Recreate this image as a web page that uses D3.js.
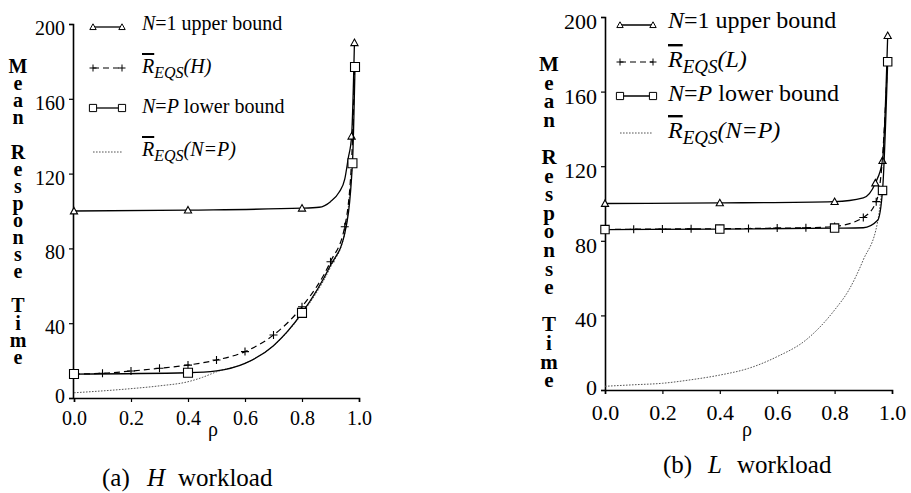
<!DOCTYPE html>
<html><head><meta charset="utf-8">
<script src="https://cdn.jsdelivr.net/npm/d3@7"></script>
<style>
html,body{margin:0;background:#fff}
svg text, svg tspan { font-family: "Liberation Serif", "Tinos", "Times New Roman", serif !important; }
</style></head><body>
<svg id="c" width="911" height="493"></svg>
<script>
// ---------- shared ----------
const xTicks = [0, 0.2, 0.4, 0.6, 0.8, 1.0];
const yTicks = [0, 40, 80, 120, 160, 200];
const axisTitle = "Mean Response Time";
const xLabel = "ρ";
const serifFamily = "Liberation Serif";

// ---------- (a) H workload ----------
const hUpperRho = [0, 0.4, 0.8, 0.86, 0.9, 0.93, 0.95, 0.962, 0.974, 0.984];
const hUpperVal = [100, 100.5, 101.5, 102, 105, 110, 117, 128, 140, 190];
const hUpperMarkRho = [0, 0.4, 0.8, 0.974, 0.984];
const hUpperMarkVal = [100, 100.5, 101.5, 140, 190];

const hEqsRho = [0, 0.1, 0.2, 0.3, 0.4, 0.5, 0.6, 0.7, 0.8, 0.9, 0.95, 0.975, 0.984];
const hEqsVal = [12.8, 13.2, 14.4, 15.9, 17.6, 20.3, 24.8, 33.7, 48.8, 72.9, 91.6, 130, 175];
const hEqsMarkRho = [0.1, 0.2, 0.3, 0.4, 0.5, 0.6, 0.7, 0.8, 0.9, 0.95];
const hEqsMarkVal = [13.2, 14.4, 15.9, 17.6, 20.3, 24.8, 33.7, 48.8, 72.9, 91.6];

const hLowerRho = [0, 0.4, 0.5, 0.6, 0.7, 0.8, 0.9, 0.95, 0.977, 0.986];
const hLowerVal = [12.8, 13.5, 14.5, 18.5, 28, 45.5, 71, 88, 125.5, 177];
const hLowerMarkRho = [0, 0.4, 0.8, 0.977, 0.986];
const hLowerMarkVal = [12.8, 13.5, 45.5, 125.5, 177];

const hNpRho = [0, 0.1, 0.2, 0.3, 0.4, 0.45, 0.5, 0.6, 0.7, 0.8, 0.9, 0.95, 0.975];
const hNpVal = [2.8, 3.8, 5, 6.5, 8.7, 11, 14, 18.5, 28, 45, 70, 88, 122];

// ---------- (b) L workload ----------
const lUpperRho = [0, 0.4, 0.8, 0.9, 0.942, 0.967, 0.985];
const lUpperVal = [100, 100.3, 101, 103, 111, 123, 190];
const lUpperMarkRho = [0, 0.4, 0.8, 0.942, 0.967, 0.985];
const lUpperMarkVal = [100, 100.3, 101, 111, 123, 190];

const lEqsRho = [0, 0.1, 0.2, 0.3, 0.4, 0.5, 0.6, 0.7, 0.8, 0.9, 0.945, 0.967, 0.985];
const lEqsVal = [86, 86.2, 86.3, 86.4, 86.5, 86.6, 86.8, 87, 87.7, 92.5, 101, 125, 178];
const lEqsMarkRho = [0.1, 0.2, 0.3, 0.4, 0.5, 0.6, 0.7, 0.8, 0.9, 0.945];
const lEqsMarkVal = [86.2, 86.3, 86.4, 86.5, 86.6, 86.8, 87, 87.7, 92.5, 101];

const lLowerRho = [0, 0.4, 0.8, 0.9, 0.95, 0.967, 0.985];
const lLowerVal = [86, 86.3, 86.8, 87, 91, 107, 176];
const lLowerMarkRho = [0, 0.4, 0.8, 0.967, 0.985];
const lLowerMarkVal = [86, 86.3, 86.8, 107, 176];

const lNpRho = [0, 0.1, 0.2, 0.3, 0.4, 0.5, 0.6, 0.7, 0.8, 0.85, 0.9, 0.95, 0.967];
const lNpVal = [2, 2.8, 3.6, 5.5, 8, 11.6, 17.9, 26.8, 42.9, 53.7, 69.8, 90.3, 110];

// legend labels
const legendUpper = [{t: "N", it: true}, {t: "=1 upper bound"}];
const legendLower = [{t: "N", it: true}, {t: "="}, {t: "P", it: true}, {t: " lower bound"}];
const legendEqsH = [{t: "R", it: true, over: true}, {t: "EQS", it: true, sub: true}, {t: "(H)", it: true}];
const legendEqsL = [{t: "R", it: true, over: true}, {t: "EQS", it: true, sub: true}, {t: "(L)", it: true}];
const legendEqsNP = [{t: "R", it: true, over: true}, {t: "EQS", it: true, sub: true}, {t: "(N=P)", it: true}];

const captionA = ["(a)", "H", "workload"];
const captionB = ["(b)", "L", "workload"];

// ---------- drawing ----------
const svg = d3.select("#c");

const markerPath = {
  tri: s => `M0,${-s}L${s},${s * 0.8}L${-s},${s * 0.8}Z`,
  sq: s => `M${-s},${-s}H${s}V${s}H${-s}Z`,
  plus: s => `M${-s},0H${s}M0,${-s}V${s}`
};

const styles = {
  upper: {dash: null, width: 1.3, color: "#000"},
  eqs: {dash: "6,4", width: 1.2, color: "#000"},
  lower: {dash: null, width: 1.3, color: "#000"},
  np: {dash: "1.6,1.4", width: 1, color: "#555"}
};

function serif(sel) {
  return sel.attr("font-family", serifFamily).style("font-family", serifFamily, "important");
}

function drawPanel(c) {
  const g = svg.append("g");
  const x = d3.scaleLinear().domain([0, 1]).range([c.x0, c.x1]);
  const y = d3.scaleLinear().domain([0, 200]).range([c.yBot, c.yTop]);

  // axes
  const ax = g.append("g").attr("transform", `translate(0,${c.yBot})`)
    .call(d3.axisBottom(x).tickValues(xTicks).tickFormat(d3.format(".1f"))
      .tickSize(4).tickSizeOuter(4).tickPadding(c.xPad));
  const ay = g.append("g").attr("transform", `translate(${c.axisX},0)`)
    .call(d3.axisLeft(y).tickValues(yTicks).tickFormat(d3.format("d"))
      .tickSize(4).tickSizeOuter(4).tickPadding(4));
  [ax, ay].forEach(a => {
    a.attr("font-size", c.tickFont);
    serif(a);
    a.selectAll("path.domain").attr("stroke", "#000").attr("stroke-width", 1.6);
    a.selectAll(".tick line").attr("stroke", "#000").attr("stroke-width", 1.2);
    serif(a.selectAll("text").attr("fill", "#000").attr("font-size", c.tickFont));
  });
  ay.selectAll("text").attr("dy", d => d === 0 ? c.zeroDy : "0.52em");

  // series
  const line = d3.line().x(d => x(d[0])).y(d => y(d[1])).curve(d3.curveMonotoneX);
  c.series.forEach(s => {
    const st = styles[s.type];
    const pts = s.rho.map((r, i) => [r, s.val[i]]);
    g.append("path").attr("d", line(pts)).attr("fill", "none")
      .attr("stroke", st.color).attr("stroke-width", st.width)
      .attr("stroke-dasharray", st.dash);
    if (s.mRho) {
      const mk = s.mRho.map((r, i) => [r, s.mVal[i]]);
      g.selectAll(null).data(mk).enter().append("path")
        .attr("transform", d => `translate(${x(d[0])},${y(d[1])})`)
        .attr("d", markerPath[s.marker](c.mSize[s.marker]))
        .attr("fill", s.marker === "plus" ? "none" : "#fff")
        .attr("stroke", "#000").attr("stroke-width", 1.1);
    }
  });

  // legend
  c.legend.forEach((L, i) => {
    const st = styles[L.type];
    const ly = c.leg.rows[i];
    g.append("line").attr("x1", c.leg.mx0).attr("x2", c.leg.mx1)
      .attr("y1", ly).attr("y2", ly).attr("stroke", st.color)
      .attr("stroke-width", st.width).attr("stroke-dasharray", st.dash);
    if (L.marker) {
      [c.leg.mx0, c.leg.mx1].forEach(mx => {
        g.append("path").attr("transform", `translate(${mx},${ly})`)
          .attr("d", markerPath[L.marker](c.leg.mSize[L.marker]))
          .attr("fill", L.marker === "plus" ? "none" : "#fff")
          .attr("stroke", "#000").attr("stroke-width", 1);
      });
    }
    const t = serif(g.append("text").attr("x", c.leg.tx).attr("y", c.leg.base[i])
      .attr("font-size", c.leg.font));
    let shifted = 0;
    L.parts.forEach(p => {
      const ts = t.append("tspan").text(p.t);
      if (p.it) ts.attr("font-style", "italic");
      if (p.over) ts.style("text-decoration", "overline");
      if (p.sub) {
        ts.attr("font-size", c.leg.sub).attr("dy", c.leg.subShift);
        shifted = c.leg.subShift;
      } else if (shifted) {
        ts.attr("dy", -shifted);
        shifted = 0;
      }
    });
  });

  // vertical stacked axis title (one text, upright letters)
  serif(g.append("text").attr("x", c.title.x).attr("y", c.title.y)
    .attr("font-size", c.title.font).attr("font-weight", "bold")
    .style("writing-mode", "vertical-rl").style("text-orientation", "upright")
    .style("letter-spacing", c.title.ls + "px").text(axisTitle));

  // x label
  serif(g.append("text").attr("x", c.rho.x).attr("y", c.rho.y).attr("text-anchor", "middle")
    .attr("font-size", c.rho.font).text(xLabel));

  // caption
  const cap = serif(g.append("text").attr("y", c.cap.y).attr("font-size", c.cap.font));
  c.cap.parts.forEach((p, i) => {
    const ts = cap.append("tspan").attr("x", c.cap.xs[i]).text(p);
    if (i === 1) ts.attr("font-style", "italic");
  });
}

drawPanel({
  x0: 74, x1: 359, yTop: 24, yBot: 398, axisX: 73, xPad: 9, tickFont: 20, zeroDy: "0.22em",
  mSize: {tri: 3.6, sq: 4.5, plus: 4},
  series: [
    {type: "np", rho: hNpRho, val: hNpVal},
    {type: "upper", rho: hUpperRho, val: hUpperVal, mRho: hUpperMarkRho, mVal: hUpperMarkVal, marker: "tri"},
    {type: "eqs", rho: hEqsRho, val: hEqsVal, mRho: hEqsMarkRho, mVal: hEqsMarkVal, marker: "plus"},
    {type: "lower", rho: hLowerRho, val: hLowerVal, mRho: hLowerMarkRho, mVal: hLowerMarkVal, marker: "sq"}
  ],
  legend: [
    {type: "upper", marker: "tri", parts: legendUpper},
    {type: "eqs", marker: "plus", parts: legendEqsH},
    {type: "lower", marker: "sq", parts: legendLower},
    {type: "np", marker: null, parts: legendEqsNP}
  ],
  leg: {mx0: 93, mx1: 122, tx: 142, rows: [27, 68, 108, 152], base: [30, 73, 113, 156],
        font: 20, sub: 16, subShift: 5, mSize: {tri: 3.2, sq: 3.6, plus: 3.5}},
  title: {x: 18, y: 55, font: 20, ls: -4.9},
  rho: {x: 213, y: 436, font: 20},
  cap: {y: 486, font: 25, parts: captionA, xs: [102, 147, 178]}
});

drawPanel({
  x0: 605, x1: 892, yTop: 17, yBot: 390, axisX: 605, xPad: 10, tickFont: 22, zeroDy: "0.2em",
  mSize: {tri: 3.6, sq: 4.2, plus: 4},
  series: [
    {type: "np", rho: lNpRho, val: lNpVal},
    {type: "upper", rho: lUpperRho, val: lUpperVal, mRho: lUpperMarkRho, mVal: lUpperMarkVal, marker: "tri"},
    {type: "eqs", rho: lEqsRho, val: lEqsVal, mRho: lEqsMarkRho, mVal: lEqsMarkVal, marker: "plus"},
    {type: "lower", rho: lLowerRho, val: lLowerVal, mRho: lLowerMarkRho, mVal: lLowerMarkVal, marker: "sq"}
  ],
  legend: [
    {type: "upper", marker: "tri", parts: legendUpper},
    {type: "eqs", marker: "plus", parts: legendEqsL},
    {type: "lower", marker: "sq", parts: legendLower},
    {type: "np", marker: null, parts: legendEqsNP}
  ],
  leg: {mx0: 620, mx1: 653, tx: 668, rows: [25, 62, 96, 133], base: [28, 67, 101, 138],
        font: 24, sub: 19, subShift: 6, mSize: {tri: 3.2, sq: 3.6, plus: 3.5}},
  title: {x: 549, y: 52, font: 21, ls: -5.4},
  rho: {x: 747, y: 436, font: 20},
  cap: {y: 473, font: 25, parts: captionB, xs: [663, 708, 737]}
});
</script>
</body></html>
